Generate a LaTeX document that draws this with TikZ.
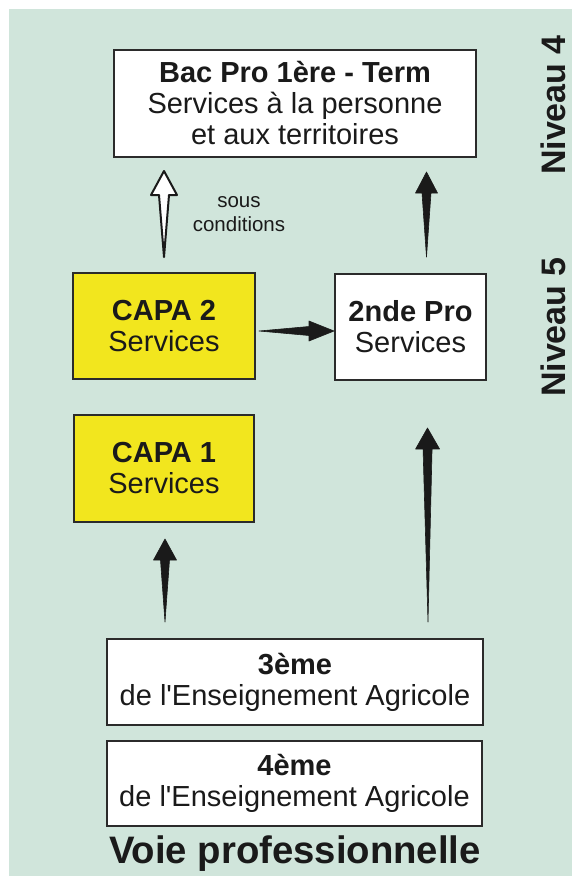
\documentclass[tikz,border=0pt]{standalone}
\usepackage{fontspec}
\setmainfont{Liberation Sans}
\usetikzlibrary{calc}
\definecolor{bg}{HTML}{D0E5DB}
\definecolor{capay}{HTML}{F2E61E}
\definecolor{ink}{HTML}{1A1A1A}
\definecolor{edge}{HTML}{2B2B2B}
\newcommand\taperarrow[7]{%
  \path ($(#2)!#4!(#1)$) coordinate (hb);
  \filldraw[draw=ink, line width=#7, line join=round, fill=#3]
    (#1) -- ($(hb)!#6!90:(#2)$) -- ($(hb)!#5!90:(#2)$) -- (#2)
    -- ($(hb)!#5!-90:(#2)$) -- ($(hb)!#6!-90:(#2)$) -- cycle;}
\begin{document}
\begin{tikzpicture}[x=1pt,y=1pt,
  box/.style={draw=edge, line width=2pt, rectangle, inner sep=0pt, align=center,
    text=ink, font=\fontsize{29}{31}\selectfont},
  whitebox/.style={box, fill=white},
  yellowbox/.style={box, fill=capay},
  niveau/.style={rotate=90, text=ink, font=\fontsize{34}{36}\selectfont\bfseries},
  note/.style={text=ink, align=center, font=\fontsize{20.5}{24}\selectfont},
  title/.style={text=ink, font=\fontsize{38.3}{40}\selectfont\bfseries}]
\path[use as bounding box] (0,0) rectangle (572,-876);
\fill[bg] (9,-9) rectangle (572,-876);

\node[whitebox, minimum width=362, minimum height=107] (bac) at (295,-103.5)
  {\textbf{Bac Pro 1ère - Term}\\Services à la personne\\et aux territoires};
\node[yellowbox, minimum width=182, minimum height=106] (capa2) at (164,-326)
  {\textbf{CAPA 2}\\Services};
\node[whitebox, minimum width=151, minimum height=106] (nde) at (410.5,-327)
  {\textbf{2nde Pro}\\Services};
\node[yellowbox, minimum width=180, minimum height=107] (capa1) at (164,-468.5)
  {\textbf{CAPA 1}\\Services};
\node[whitebox, minimum width=376, minimum height=86] (trois) at (295,-682)
  {\textbf{3ème}\\de l\textquotesingle Enseignement Agricole};
\node[whitebox, minimum width=375, minimum height=85] (quatre) at (294.5,-783.5)
  {\textbf{4ème}\\de l\textquotesingle Enseignement Agricole};

\node[title, anchor=base] (voie) at (295,-863) {Voie professionnelle};
\node[niveau] (n4) at (553,-105) {Niveau 4};
\node[niveau] (n5) at (553,-327) {Niveau 5};
\node[note] (sous) at (239,-214) {sous\\conditions};

% connectors
\coordinate (w0) at ($(capa2.north)+(0,15)$);
\coordinate (w1) at ($(capa2.north |- bac.south)+(0,-13)$);
\coordinate (r0) at ($(nde.north)+(16,16)$);
\coordinate (r1) at ($(nde.north -| r0)+(0,101)$);
\coordinate (h0) at ($(capa2.east)+(3,-5)$);
\coordinate (h1) at ($(nde.west |- h0)$);
\coordinate (c0) at ($(capa1.south |- trois.north)+(1,16)$);
\coordinate (c1) at ($(capa1.south)+(1,-16)$);
\coordinate (b0) at ($(trois.north)+(133,16)$);
\coordinate (b1) at ($(nde.south)+(17,-47)$);

\taperarrow{w0}{w1}{white}{24pt}{13pt}{5pt}{2pt}
\taperarrow{r0}{r1}{ink}{21pt}{11pt}{4.5pt}{0.6pt}
\taperarrow{h0}{h1}{ink}{25pt}{10pt}{4.5pt}{0.6pt}
\taperarrow{c0}{c1}{ink}{21pt}{11.5pt}{4.5pt}{0.6pt}
\taperarrow{b0}{b1}{ink}{21pt}{12pt}{4.5pt}{0.6pt}
\end{tikzpicture}
\end{document}
